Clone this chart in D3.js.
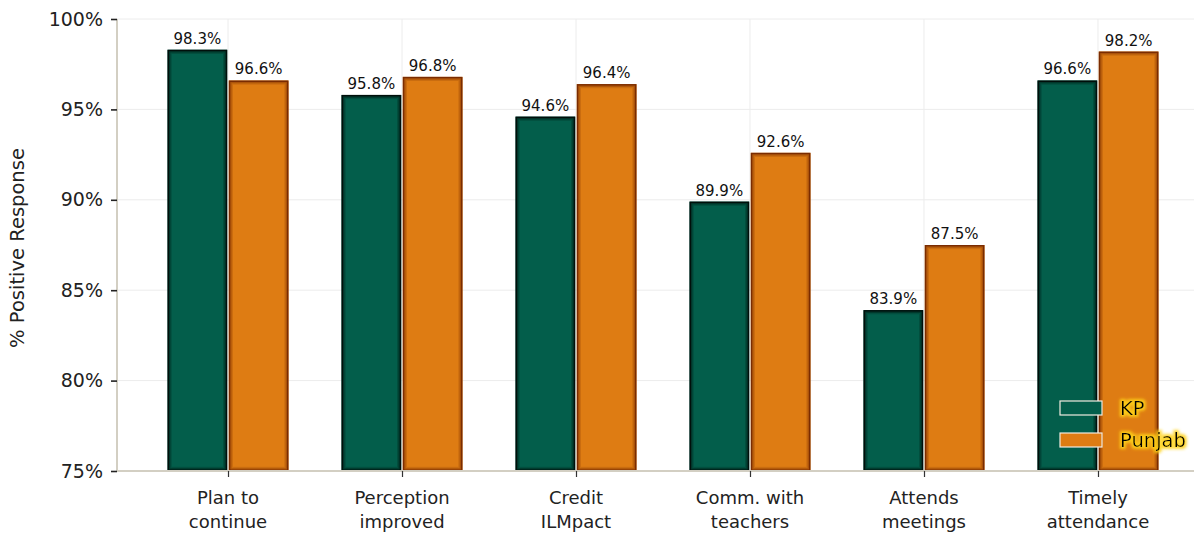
<!DOCTYPE html>
<html>
<head>
<meta charset="utf-8">
<script src="https://cdn.jsdelivr.net/npm/d3@7/dist/d3.min.js"></script>
<style>
  html, body { margin: 0; padding: 0; background: #ffffff; }
  svg { display: block; }
  text { font-family: "DejaVu Sans", sans-serif; }
</style>
</head>
<body>
<svg id="chart" width="1194" height="533"></svg>
<script>
// Survey results: share of positive responses by province
const categories = [
  ["Plan to", "continue"],
  ["Perception", "improved"],
  ["Credit", "ILMpact"],
  ["Comm. with", "teachers"],
  ["Attends", "meetings"],
  ["Timely", "attendance"]
];
const seriesNames = ["KP", "Punjab"];
const kpValues = [98.3, 95.8, 94.6, 89.9, 83.9, 96.6];
const punjabValues = [96.6, 96.8, 96.4, 92.6, 87.5, 98.2];
const yTicks = [75, 80, 85, 90, 95, 100];

const colors = { KP: "#035e4b", Punjab: "#de7c13" };
const edges = { KP: "#010f0b", Punjab: "#7a2c02" };

const svg = d3.select("#chart");
const W = 1194, H = 533;
const margin = { left: 117, right: -15, top: 19, bottom: 62 };
const plotRight = W - margin.right;
const plotBottom = H - margin.bottom;

// Category positions on a linear index scale
const x = d3.scaleLinear()
  .domain([-0.638, categories.length - 1 + 0.638])
  .range([margin.left, plotRight]);
const step = x(1) - x(0);
const barW = step * 0.343;

const y = d3.scaleLinear().domain([75, 100]).range([plotBottom, margin.top]);

// Soft yellow halo behind legend text
const defs = svg.append("defs");
const halo = defs.append("filter").attr("id", "halo")
  .attr("x", "-20%").attr("y", "-40%").attr("width", "140%").attr("height", "180%");
halo.append("feMorphology").attr("in", "SourceAlpha").attr("operator", "dilate").attr("radius", 1.8).attr("result", "d");
halo.append("feGaussianBlur").attr("in", "d").attr("stdDeviation", 1.6).attr("result", "db");
halo.append("feFlood").attr("flood-color", "#ffd21a").attr("flood-opacity", 0.9).attr("result", "y");
halo.append("feComposite").attr("in", "y").attr("in2", "db").attr("operator", "in").attr("result", "g");
const hm = halo.append("feMerge");
hm.append("feMergeNode").attr("in", "g");
hm.append("feMergeNode").attr("in", "SourceGraphic");

// Grid
const grid = svg.append("g");
grid.selectAll("line.h").data(yTicks).join("line")
  .attr("x1", margin.left).attr("x2", plotRight)
  .attr("y1", d => y(d)).attr("y2", d => y(d))
  .attr("stroke", "#ececec").attr("stroke-width", 1);
grid.selectAll("line.v").data(categories).join("line")
  .attr("x1", (d, i) => x(i)).attr("x2", (d, i) => x(i))
  .attr("y1", margin.top).attr("y2", plotBottom)
  .attr("stroke", "#ececec").attr("stroke-width", 1);

// Bars, each with a layered dark rim fading inward
const series = [
  { name: "KP", values: kpValues, offset: -1 },
  { name: "Punjab", values: punjabValues, offset: 0 }
];
const barX = (s, i) => x(i) + s.offset * barW + (s.offset === 0 ? 0.8 : -0.8);
const rims = [
  { inset: 0.8, width: 1.6, opacity: 1.0 },
  { inset: 2.2, width: 1.4, opacity: 0.45 },
  { inset: 3.5, width: 1.3, opacity: 0.2 }
];
series.forEach(s => {
  const g = svg.append("g");
  const bars = g.selectAll("g.bar").data(s.values).join("g").attr("class", "bar");
  bars.append("rect")
    .attr("x", (d, i) => barX(s, i))
    .attr("y", d => y(d))
    .attr("width", barW)
    .attr("height", d => plotBottom - y(d))
    .attr("fill", colors[s.name]);
  rims.forEach(r => {
    bars.append("rect")
      .attr("x", (d, i) => barX(s, i) + r.inset)
      .attr("y", d => y(d) + r.inset)
      .attr("width", barW - 2 * r.inset)
      .attr("height", d => Math.max(0, plotBottom - y(d) - 2 * r.inset))
      .attr("fill", "none")
      .attr("stroke", edges[s.name])
      .attr("stroke-opacity", r.opacity)
      .attr("stroke-width", r.width);
  });
  g.selectAll("text").data(s.values).join("text")
    .attr("x", (d, i) => barX(s, i) + barW / 2)
    .attr("y", d => y(d) - 6)
    .attr("text-anchor", "middle")
    .attr("font-size", 15)
    .attr("fill", "#111")
    .text(d => d.toFixed(1) + "%");
});

// Spines
svg.append("line")
  .attr("x1", margin.left).attr("x2", margin.left)
  .attr("y1", margin.top).attr("y2", plotBottom + 1)
  .attr("stroke", "#d3cfc3").attr("stroke-width", 2);
svg.append("line")
  .attr("x1", margin.left).attr("x2", plotRight)
  .attr("y1", plotBottom).attr("y2", plotBottom)
  .attr("stroke", "#d3cfc3").attr("stroke-width", 2);

// Y axis
const yAxis = svg.append("g").attr("transform", `translate(${margin.left},0)`)
  .call(d3.axisLeft(y).tickValues(yTicks).tickSize(6).tickPadding(8).tickFormat(d => d + "%"));
yAxis.select(".domain").remove();
yAxis.selectAll(".tick line").attr("stroke", "#222").attr("stroke-width", 1.6);
yAxis.selectAll(".tick text").attr("font-size", 19).attr("fill", "#222")
  .attr("font-family", "DejaVu Sans, sans-serif");

// X axis ticks and wrapped labels
const xAxis = svg.append("g").attr("transform", `translate(0,${plotBottom})`)
  .call(d3.axisBottom(x).tickValues(d3.range(categories.length)).tickSize(6).tickFormat(""));
xAxis.select(".domain").remove();
xAxis.selectAll(".tick line").attr("stroke", "#333").attr("stroke-width", 1.2);
const lab = svg.append("g");
categories.forEach((lines, i) => {
  const t = lab.append("text")
    .attr("x", x(i)).attr("y", plotBottom + 33)
    .attr("text-anchor", "middle")
    .attr("font-size", 18).attr("fill", "#222");
  lines.forEach((ln, k) => {
    t.append("tspan").attr("x", x(i)).attr("dy", k === 0 ? 0 : 23.5).text(ln);
  });
});

// Y axis title
svg.append("text")
  .attr("transform", `translate(24,${(margin.top + plotBottom) / 2 + 3}) rotate(-90)`)
  .attr("text-anchor", "middle")
  .attr("font-size", 19.5).attr("fill", "#222")
  .attr("font-family", "Open Sans, sans-serif")
  .text("% Positive Response");

// Legend
const legend = svg.append("g").attr("transform", "translate(1060,401)");
seriesNames.forEach((name, i) => {
  const row = legend.append("g").attr("transform", `translate(0,${i * 32})`);
  row.append("rect")
    .attr("width", 42).attr("height", 14)
    .attr("fill", colors[name])
    .attr("stroke", "#f1ece0").attr("stroke-width", 1.2);
  row.append("text")
    .attr("x", 60).attr("y", 7).attr("dy", "0.36em")
    .attr("font-size", 19.5).attr("fill", "#000")
    .attr("filter", "url(#halo)")
    .text(name);
});
</script>
</body>
</html>
